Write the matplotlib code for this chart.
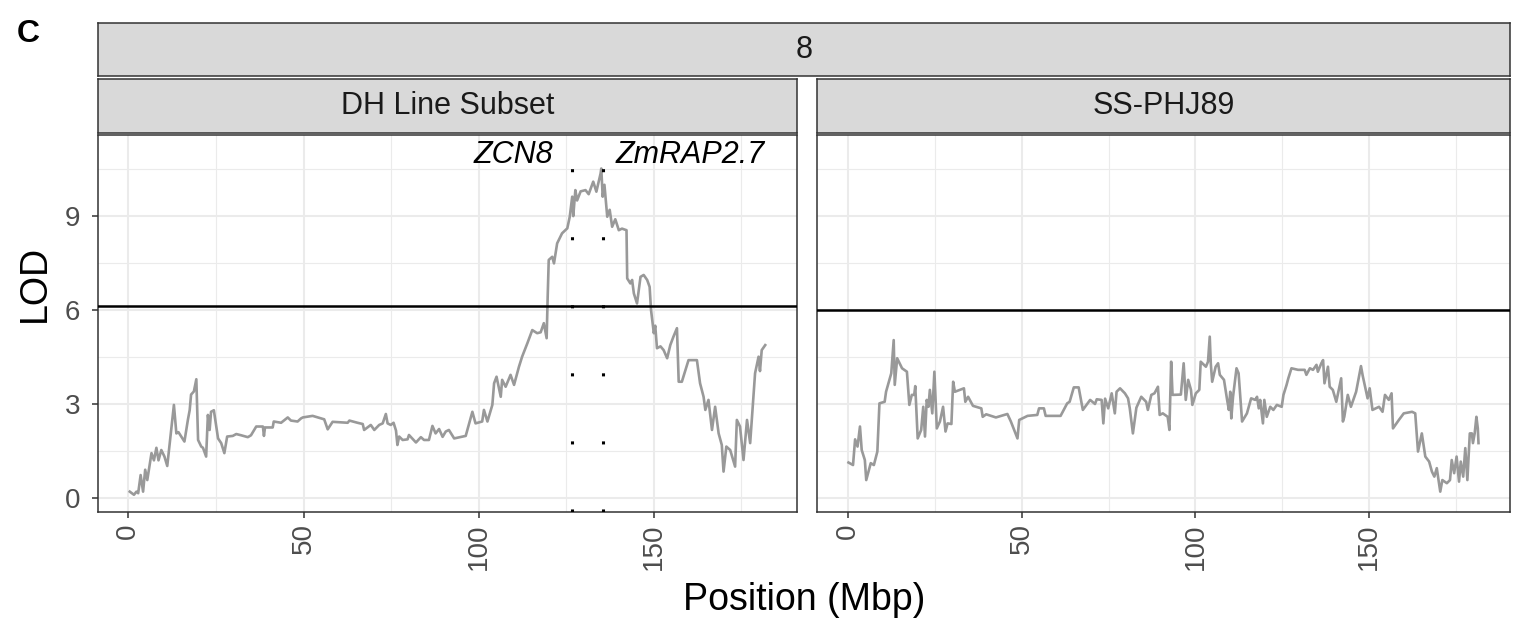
import matplotlib.pyplot as plt
from matplotlib.ticker import MultipleLocator

plt.rcParams["font.family"] = ["Liberation Sans", "DejaVu Sans"]
plt.rcParams["lines.scale_dashes"] = False

chrom = "8"
panels = ["DH Line Subset", "SS-PHJ89"]

# LOD profile, DH line subset
dh_pos = [0.4, 1.6, 2.3, 2.8, 3.5, 4.2, 4.8, 5.4, 6.6, 7.3, 8.0, 8.6, 9.4, 10.3, 11.1,
          13.0, 13.7, 14.3, 16.0, 17.0, 17.5, 17.9, 18.7, 19.4, 19.9, 20.8, 21.3, 22.2,
          22.7, 23.2, 23.6, 24.4, 25.6, 26.5, 27.4, 28.2, 29.8, 30.8, 32.2, 34.1, 35.0,
          36.5, 38.4, 38.7, 39.0, 41.2, 41.5, 43.6, 45.5, 46.4, 48.3, 49.3, 49.8, 52.6,
          55.9, 56.9, 58.3, 62.6, 63.1, 65.4, 66.9, 67.3, 69.2, 70.2, 71.6, 72.6, 73.5,
          74.0, 74.9, 75.7, 76.4, 76.8, 77.3, 78.3, 79.7, 80.1, 82.1, 83.5, 84.4, 85.8,
          86.8, 87.7, 88.7, 89.7, 90.6, 91.5, 93.0, 96.3, 98.2, 99.1, 101.0, 101.5,
          102.5, 103.9, 104.4, 105.1, 106.3, 106.7, 107.7, 109.1, 110.1, 111.5, 112.4,
          113.9, 115.3, 116.7, 117.7, 118.6, 119.4, 119.7, 120.0, 121.0, 121.5, 122.4,
          123.8, 125.3, 126.0, 126.7, 127.0, 127.6, 128.1, 129.1, 130.5, 131.4, 132.7,
          133.6, 134.8, 135.0, 135.4, 135.9, 136.7, 137.4, 138.1, 139.0, 140.0, 140.9,
          142.2, 142.4, 143.3, 143.8, 144.3, 145.2, 146.2, 147.1, 148.1, 148.8, 149.2,
          150.0, 150.4, 150.9, 151.9, 152.8, 153.8, 154.7, 155.6, 156.6, 157.1, 158.0,
          159.9, 162.3, 163.2, 164.2, 164.7, 165.6, 166.6, 167.5, 168.5, 169.4, 169.9,
          170.7, 171.8, 173.2, 173.7, 174.6, 175.6, 176.6, 177.5, 178.3, 178.9, 179.9,
          180.3, 180.8, 181.8]
dh_lod = [0.2, 0.1, 0.2, 0.15, 0.73, 0.2, 0.9, 0.57, 1.43, 1.2, 1.6, 1.2, 1.53, 1.32, 1.02,
          2.97, 2.06, 2.1, 1.8, 2.5, 2.8, 3.3, 3.4, 3.79, 1.85, 1.64, 1.6, 1.32,
          2.65, 2.17, 2.75, 2.8, 1.9, 1.75, 1.43, 1.96, 1.98, 2.04, 2.0, 1.94, 2.0,
          2.28, 2.28, 1.98, 2.25, 2.25, 2.44, 2.4, 2.57, 2.47, 2.44, 2.54, 2.57, 2.62,
          2.51, 2.19, 2.43, 2.4, 2.47, 2.4, 2.36, 2.17, 2.33, 2.17, 2.33, 2.38, 2.68,
          2.38, 2.33, 2.4, 2.15, 1.69, 1.96, 1.85, 1.87, 2.01, 1.77, 1.94, 1.85, 1.85,
          2.3, 2.06, 2.2, 1.95, 2.12, 2.17, 1.9, 1.98, 2.75, 2.38, 2.44, 2.81,
          2.44, 2.97, 3.66, 3.87, 3.23, 3.77, 3.55, 3.93, 3.61, 4.19, 4.51,
          4.94, 5.36, 5.26, 5.29, 5.58, 5.1, 6.43, 7.6, 7.7, 7.49, 8.13,
          8.45, 8.61, 8.98, 9.62, 9.0, 9.83, 9.5, 9.79, 9.83, 9.7, 10.1,
          9.78, 10.36, 10.52, 9.62, 10.0, 8.98, 9.2, 8.66, 8.9, 8.55, 8.6,
          8.55, 7.01, 6.85, 6.96, 6.53, 6.21, 7.06, 7.12, 6.96, 6.74, 6.0,
          5.26, 5.5, 4.78, 4.84, 4.72, 4.46, 4.88, 5.15, 5.42, 3.71, 3.71,
          4.4, 4.4, 3.66, 3.23, 2.81, 3.13, 2.17, 2.91, 2.06, 1.69, 0.84,
          1.64, 1.53, 1.0, 2.49, 2.28, 1.21, 2.49, 1.75, 3.02, 3.98, 4.51,
          4.05, 4.72, 4.88]

# LOD profile, SS-PHJ89
ss_pos = [0.2, 1.5, 2.1, 2.8, 3.5, 4.0, 4.9, 5.3, 6.6, 7.5, 8.5, 9.1, 10.6, 11.0, 12.5,
          13.2, 13.5, 14.2, 15.6, 17.0, 17.7, 18.4, 19.1, 19.4, 20.1, 21.1, 21.7, 22.2,
          22.7, 23.2, 23.6, 24.3, 24.9, 25.6, 26.5, 27.4, 28.1, 28.7, 29.8, 30.3, 30.8,
          33.4, 33.8, 34.6, 36.0, 38.4, 38.8, 39.8, 42.6, 45.9, 46.9, 48.8, 49.3, 51.7,
          54.5, 55.0, 56.4, 56.9, 61.2, 63.1, 63.8, 65.0, 66.4, 67.6, 69.7, 71.1, 71.6,
          73.0, 73.5, 74.0, 74.9, 75.9, 76.8, 77.3, 78.3, 79.7, 80.6, 81.1, 82.0, 83.0,
          84.4, 85.8, 86.3, 87.3, 88.2, 89.2, 89.7, 90.6, 92.0, 92.5, 93.0, 93.4, 95.8,
          96.6, 97.2, 97.9, 98.7, 99.1, 100.1, 101.1, 101.5, 103.0, 103.6, 104.1, 104.4,
          104.8, 105.8, 106.5, 107.0, 108.2, 109.1, 109.6, 110.0, 110.3, 110.8, 111.8,
          112.4, 113.4, 114.8, 116.0, 117.2, 117.7, 118.2, 118.6, 119.4, 119.8, 120.5,
          121.5, 122.4, 123.4, 124.8, 125.3, 126.2, 126.7, 127.6, 129.5, 131.4, 131.9,
          132.9, 133.8, 134.8, 135.2, 136.2, 136.7, 137.1, 138.1, 138.6, 139.5, 140.5,
          141.9, 142.4, 142.8, 143.8, 144.7, 146.2, 147.6, 148.1, 149.5, 150.1, 150.9,
          152.8, 153.8, 154.5, 155.6, 156.4, 156.8, 158.5, 159.9, 162.3, 163.2, 164.0,
          165.1, 166.1, 167.2, 168.0, 168.7, 169.4, 170.4, 171.0, 172.3, 173.2, 173.7,
          174.4, 175.1, 175.8, 176.3, 177.0, 177.6, 178.2, 178.9, 179.5, 179.8, 180.3,
          180.8, 181.2, 181.4]
ss_lod = [1.13, 1.05, 1.87, 1.64, 2.28, 1.53, 1.21, 0.57, 1.11, 1.05, 1.48, 3.02, 3.07, 3.39, 3.98,
          5.04, 3.61, 4.46, 4.14, 4.03, 2.97, 3.29, 3.29, 3.57, 1.9, 2.17, 2.91, 1.96,
          3.13, 2.91, 3.45, 2.7, 4.03, 2.22, 2.44, 2.91, 2.12, 2.38, 2.36, 3.71, 3.39,
          3.5, 3.07, 3.23, 2.94, 2.86, 2.59, 2.67, 2.57, 2.68, 2.44, 1.9, 2.49, 2.62,
          2.65, 2.86, 2.86, 2.62, 2.62, 3.02, 3.07, 3.53, 3.53, 2.81, 3.13, 3.0, 3.15,
          3.13, 2.38, 3.17, 2.86, 3.34, 2.7, 3.39, 3.5, 3.34, 3.18, 2.86, 2.06, 2.88,
          3.23, 3.07, 2.81, 3.29, 3.34, 3.55, 2.65, 2.7, 2.59, 2.17, 4.35, 3.29, 3.3,
          4.3, 3.13, 3.77, 3.45, 2.97, 3.34, 3.45, 4.35, 4.19, 4.35, 5.15, 4.3,
          3.71, 4.19, 4.3, 3.93, 3.77, 3.13, 2.81, 3.39, 2.54, 3.23, 4.14,
          3.98, 2.44, 2.7, 3.18, 3.13, 3.23, 2.86, 3.13, 2.38, 3.13, 2.59,
          2.91, 2.81, 2.97, 2.91, 3.29, 3.61, 3.82, 4.14, 4.09, 4.09, 3.93,
          4.14, 4.09, 4.25, 4.03, 4.3, 4.4, 3.66, 4.19, 3.55, 3.45, 3.07,
          3.82, 2.44, 2.59, 3.29, 2.91, 3.39, 4.21, 3.9, 3.18, 3.5, 2.81,
          2.91, 2.75, 3.29, 3.13, 3.34, 2.22, 2.49, 2.7, 2.75, 2.7, 1.48,
          2.06, 1.32, 1.16, 0.84, 0.68, 0.95, 0.2, 0.57, 0.47, 0.57, 1.21,
          0.79, 1.32, 0.52, 1.16, 0.68, 1.59, 0.57, 2.06, 2.06, 1.75, 2.06,
          2.59, 2.22, 1.75]

thresholds = [6.13, 6.0]
gene_pos = [126.7, 135.6]
gene_names = ["ZCN8", "ZmRAP2.7"]

W, H = 1532, 627
fig = plt.figure(figsize=(W / 100, H / 100), dpi=100)


def box(x0, y0, x1, y1):
    # pixel box (top-left origin) -> figure fraction
    return [x0 / W, 1 - y1 / H, (x1 - x0) / W, (y1 - y0) / H]


def strip(rect, label):
    s = fig.add_axes(box(*rect))
    s.set_facecolor("#D9D9D9")
    s.set_xticks([])
    s.set_yticks([])
    for sp in s.spines.values():
        sp.set_color("#333333")
        sp.set_linewidth(1.1)
    s.text(0.5, 0.5, label, ha="center", va="center", fontsize=22, color="#1A1A1A",
           transform=s.transAxes)


strip((98, 23, 1510, 76), chrom)

data = [(dh_pos, dh_lod), (ss_pos, ss_lod)]
rects = [(98, 135, 797, 512), (817, 135, 1510, 512)]
strip_rects = [(98, 79, 797, 133), (817, 79, 1510, 133)]

for i in range(2):
    pos, lod = data[i]
    strip(strip_rects[i], panels[i])
    ax = fig.add_axes(box(*rects[i]))
    ax.plot(pos, lod, color="#999999", lw=1.9, zorder=3)
    ax.axhline(thresholds[i], color="black", lw=1.8, zorder=4)

    pad = 0.05 * (max(pos) - min(pos))
    ax.set_xlim(min(pos) - pad, max(pos) + pad)
    ax.set_ylim(-0.45, 11.59)
    ax.set_xticks([0, 50, 100, 150])
    ax.set_yticks([0, 3, 6, 9])
    ax.xaxis.set_minor_locator(MultipleLocator(25))
    ax.yaxis.set_minor_locator(MultipleLocator(1.5))
    ax.grid(which="major", color="#EBEBEB", lw=1.5)
    ax.grid(which="minor", color="#EBEBEB", lw=0.8)
    ax.set_axisbelow(True)
    ax.tick_params(which="major", direction="out", length=4, width=1.1, color="#333333",
                   labelcolor="#4D4D4D", labelsize=20, pad=4)
    ax.tick_params(axis="y", pad=9)
    ax.tick_params(which="minor", length=0)
    ax.tick_params(axis="x", labelrotation=90)
    for sp in ax.spines.values():
        sp.set_color("#333333")
        sp.set_linewidth(1.1)

    if i == 0:
        for g in range(2):
            ax.axvline(gene_pos[g], color="black", lw=2.2, ls=(0, (2.2, 46.8)), zorder=5)
        ax.annotate(gene_names[0], xy=(gene_pos[0], 10.68), xytext=(-13.5, 0),
                    textcoords="offset points", ha="right", va="baseline",
                    fontsize=22, style="italic")
        ax.annotate(gene_names[1], xy=(gene_pos[1], 10.68), xytext=(8.6, 0),
                    textcoords="offset points", ha="left", va="baseline",
                    fontsize=22, style="italic")
    else:
        ax.tick_params(axis="y", left=False, labelleft=False)

fig.text(804 / W, 1 - 600 / H, "Position (Mbp)", ha="center", va="center", fontsize=27)
fig.text(35 / W, 1 - 283 / H, "LOD", ha="center", va="center", fontsize=27, rotation=90)
fig.text(17 / W, 1 - 42 / H, "C", ha="left", va="baseline", fontsize=23, fontweight="bold")

fig.savefig("out.png", dpi=100)
